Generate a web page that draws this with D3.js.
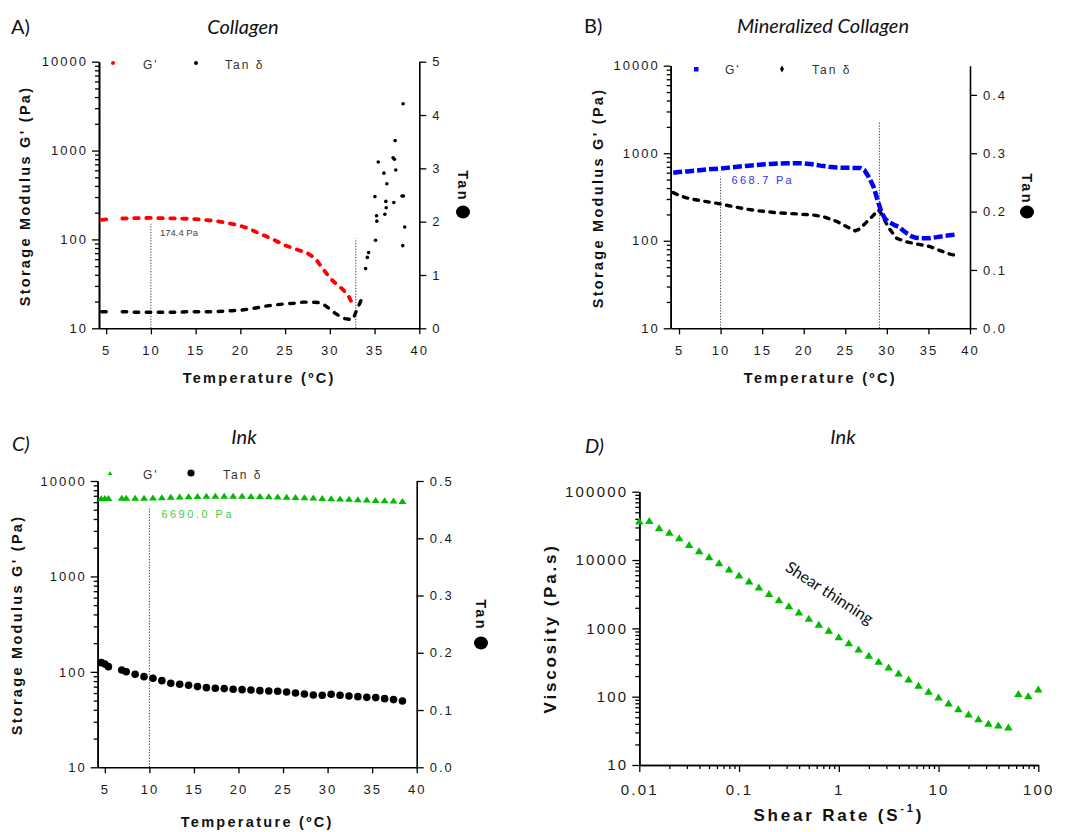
<!DOCTYPE html>
<html>
<head>
<meta charset="utf-8">
<script src="https://cdn.jsdelivr.net/npm/d3@7"></script>
<style>
  body { margin: 0; background: #fff; }
  svg { display: block; background: #fff; }
  .axis .domain { stroke: #000; stroke-width: 1.6; }
  .axis .tick line { stroke: #000; stroke-width: 1.3; }
  .axis text { font-family: "Liberation Sans", Arial, Helvetica, sans-serif; font-size: 13px; letter-spacing: 2px; fill: #1a1a1a; }
  .axis.big text { font-size: 15px; letter-spacing: 2.2px; }
  .axis-title { font-family: "Liberation Sans", Arial, Helvetica, sans-serif; font-weight: bold; font-size: 14.5px; letter-spacing: 2.3px; fill: #111; }
  .axis-title.big { font-size: 17px; letter-spacing: 2.8px; }
  .legend { font-family: "Liberation Sans", Arial, Helvetica, sans-serif; font-size: 12px; letter-spacing: 2px; fill: #333; }
  .panel-title { font-family: Lato, "Open Sans", sans-serif; font-style: italic; font-size: 20px; fill: #111; }
  .panel-tag { font-family: Lato, "Open Sans", sans-serif; font-size: 20px; fill: #111; }
  .note { font-family: "Liberation Sans", Arial, Helvetica, sans-serif; }
</style>
</head>
<body>
<svg id="chart" width="1067" height="832"></svg>
<script>
// ---------- shared tick values ----------
const tempTicks = [5, 10, 15, 20, 25, 30, 35, 40];
const collagenTanTicks = [0, 1, 2, 3, 4, 5];
const mineralTanTicks = [0, 0.1, 0.2, 0.3, 0.4];
const inkTanTicks = [0, 0.1, 0.2, 0.3, 0.4, 0.5];

// ---------- A) Collagen: temperature ramp ----------
// null marks a pause in acquisition (no point recorded)
const collagenT = [4.5, 5.0, 5.7, 6.2, 6.8, 7.5, 8.2, 9.0, 10.0, 11.0, 12.0, 13.0, 14.0, 15.0, 16.0, 17.0, 18.0, 19.0, 20.0, 21.0, 22.0, 23.0, 24.0, 25.0, 26.0, 27.0, 27.5, 28.0, 28.5, 29.0, 29.5, 30.0, 30.5, 31.0, 31.5, 32.0, 32.4];
const collagenG = [166, 168, 170, null, 172, 173, 174, 174, 174.4, 174, 173, 172, 171, 169, 166, 162, 157, 150, 142, 132, 118, 107, 96, 86, 79, 73, 70, 65, 59, 50, 43, 37, 33, 30, 27, 24, 20];
const collagenTanT = [4.5, 5.0, 5.7, 6.2, 6.8, 7.5, 8.2, 9.0, 10.0, 11.0, 12.0, 13.0, 14.0, 15.0, 16.0, 17.0, 18.0, 19.0, 20.0, 21.0, 22.0, 23.0, 24.0, 25.0, 26.0, 27.0, 28.0, 29.0, 29.7, 30.2, 30.7, 31.2, 31.7, 32.2, 32.6, 32.9, 33.1, 33.3, 33.5];
const collagenTan = [0.31, 0.31, 0.31, null, 0.31, 0.31, 0.30, 0.30, 0.30, 0.30, 0.30, 0.30, 0.31, 0.31, 0.31, 0.31, 0.32, 0.33, 0.34, 0.36, 0.39, 0.42, 0.44, 0.46, 0.47, 0.49, 0.49, 0.48, 0.40, 0.33, 0.27, 0.22, 0.18, 0.17, 0.17, 0.30, 0.38, 0.45, 0.53];
// after gelation the loss factor becomes erratic
const collagenLateT = [34.0, 34.19, 34.33, 35.11, 35.04, 35.22, 35.26, 35.41, 36.04, 36.15, 36.26, 36.30, 36.37, 37.07, 37.15, 37.22, 37.30, 37.37, 38.07, 38.15, 38.19, 38.22, 38.37];
const collagenLateTan = [1.12, 1.33, 1.42, 1.65, 2.47, 2.11, 2.01, 3.12, 2.91, 2.14, 2.38, 2.26, 2.71, 3.20, 2.36, 3.17, 3.52, 2.97, 2.48, 1.55, 4.21, 2.48, 1.90];

// ---------- B) Mineralized collagen ----------
const mineralGT = [4.3, 5.0, 6.0, 7.0, 8.0, 9.0, 10.0, 11.0, 12.0, 13.0, 14.0, 15.0, 16.0, 17.0, 18.0, 19.0, 20.0, 21.0, 22.0, 23.0, 24.0, 25.0, 26.0, 26.8, 27.3, 27.8, 28.4, 29.0, 29.4, 29.8, 30.2, 31.0, 31.5, 32.0, 32.5, 33.0, 33.5, 34.0, 35.0, 36.0, 37.0, 38.0, 38.5];
const mineralG = [600, 610, 620, 632, 648, 660, 668.7, 685, 700, 715, 730, 742, 755, 763, 767, 768, 767, 750, 722, 700, 686, 682, 680, 678, 640, 540, 415, 268, 206, 178, 165, 150, 143, 130, 120, 112, 108, 107, 107, 110, 114, 117, 119];
const mineralTanT = [4.3, 4.9, 5.8, 6.7, 7.5, 8.3, 9.2, 10.0, 11.0, 11.9, 13.0, 14.3, 15.5, 16.7, 18.0, 19.2, 20.2, 21.2, 22.4, 23.2, 24.0, 25.2, 26.2, 26.7, 27.2, 28.2, 29.0, 29.4, 29.8, 30.4, 31.2, 32.4, 33.6, 35.2, 36.4, 37.6, 38.4];
const mineralTan = [0.2325, 0.2285, 0.224, 0.221, 0.219, 0.217, 0.215, 0.213, 0.210, 0.2074, 0.2045, 0.2017, 0.200, 0.198, 0.197, 0.196, 0.195, 0.194, 0.191, 0.187, 0.183, 0.174, 0.167, 0.170, 0.177, 0.191, 0.203, 0.195, 0.183, 0.1686, 0.154, 0.148, 0.1445, 0.140, 0.133, 0.127, 0.1245];

// ---------- C) Ink: temperature ramp ----------
const inkT = [4.6, 5.0, 5.4, 6.9, 7.4, 8.4, 9.4, 10.4, 11.4, 12.4, 13.4, 14.4, 15.4, 16.4, 17.4, 18.4, 19.4, 20.4, 21.4, 22.4, 23.4, 24.4, 25.4, 26.4, 27.4, 28.4, 29.4, 30.4, 31.4, 32.4, 33.4, 34.4, 35.4, 36.4, 37.4, 38.4];
const inkG = [6600, 6620, 6650, 6680, 6680, 6690, 6690, 6700, 6760, 6820, 6880, 6930, 6970, 7000, 7020, 7010, 7000, 6990, 6980, 6960, 6920, 6880, 6850, 6800, 6760, 6700, 6650, 6600, 6560, 6500, 6450, 6390, 6340, 6290, 6230, 6180];
const inkTan = [0.1828, 0.1804, 0.1758, 0.170, 0.167, 0.1624, 0.1583, 0.1554, 0.1513, 0.1467, 0.145, 0.1432, 0.1409, 0.1391, 0.138, 0.1374, 0.1362, 0.1356, 0.135, 0.1339, 0.1333, 0.1327, 0.1315, 0.1298, 0.128, 0.1263, 0.1257, 0.1275, 0.1257, 0.1246, 0.1234, 0.1222, 0.1217, 0.1199, 0.1182, 0.1158];

// ---------- D) Ink: flow curve ----------
const shearRate = [0.01, 0.0126, 0.0158, 0.02, 0.0251, 0.0316, 0.0398, 0.0501, 0.0631, 0.0794, 0.1, 0.126, 0.158, 0.2, 0.251, 0.316, 0.398, 0.501, 0.631, 0.794, 1, 1.26, 1.58, 2, 2.51, 3.16, 3.98, 5.01, 6.31, 7.94, 10, 12.6, 15.8, 20, 25.1, 31.6, 39.8, 50.1, 63.1, 79.4, 100];
const viscosity = [37200, 38000, 29700, 25400, 21200, 16900, 13700, 11200, 9150, 7390, 6030, 4930, 4030, 3250, 2630, 2150, 1730, 1400, 1145, 935, 756, 617, 499, 403, 329, 272, 222, 181, 147, 120, 98.9, 80.7, 66.7, 55.7, 47.6, 40.7, 38.5, 36, 111, 103.5, 129];

// ---------- helpers ----------
const svg = d3.select("#chart");
const isDecade = d => Math.abs(Math.log10(d) - Math.round(Math.log10(d))) < 1e-6;
const zip = (xs, vs) => xs.map((t, i) => ({ t, v: vs[i] }));

function styleAxis(sel, big) {
  sel.attr("font-family", null).attr("font-size", null).classed("axis", true).classed("big", !!big);
}

function logAxisLeft(g, scale, xPos, big) {
  const ticks = scale.ticks();
  g.append("g").attr("transform", `translate(${xPos},0)`)
    .call(d3.axisLeft(scale).tickValues(ticks.filter(d => !isDecade(d))).tickSize(4).tickFormat("").tickSizeOuter(0))
    .call(styleAxis, big);
  g.append("g").attr("transform", `translate(${xPos},0)`)
    .call(d3.axisLeft(scale).tickValues(ticks.filter(isDecade)).tickSize(7).tickPadding(4).tickFormat(d3.format("d")).tickSizeOuter(0))
    .call(styleAxis, big);
}

function dashed(g, pts, x, y, st) {
  const line = d3.line().defined(d => d.v != null).x(d => x(d.t)).y(d => y(d.v));
  g.append("path").datum(pts).attr("d", line)
    .attr("fill", "none").attr("stroke", st.color).attr("stroke-width", st.width)
    .attr("stroke-dasharray", st.dash).attr("stroke-linecap", st.cap);
}

function dotted(g, x0, y0, y1) {
  g.append("line").attr("x1", x0).attr("x2", x0).attr("y1", y0).attr("y2", y1)
    .attr("stroke", "#333").attr("stroke-width", 1).attr("stroke-dasharray", "1.2,1.6");
}

function tanTitle(g, cx, cy, by) {
  g.append("text").attr("class", "axis-title")
    .attr("transform", `translate(${cx},${cy}) rotate(90)`)
    .attr("text-anchor", "middle").attr("dominant-baseline", "central").text("Tan");
  g.append("ellipse").attr("cx", cx).attr("cy", by).attr("rx", 7).attr("ry", 6.5).attr("fill", "#000");
}

function temperaturePanel(p) {
  const g = svg.append("g");
  const x = d3.scaleLinear().domain(p.xDomain).range([p.left, p.right]);
  const y = d3.scaleLog().domain([10, 10000]).range([p.bottom, p.top]);
  const y2 = d3.scaleLinear().domain(p.y2Domain).range([p.bottom, p.top]);

  logAxisLeft(g, y, p.left);
  g.append("g").attr("transform", `translate(0,${p.bottom})`)
    .call(d3.axisBottom(x).tickValues(tempTicks).tickSize(6).tickPadding(11).tickFormat(d3.format("d")).tickSizeOuter(0))
    .call(styleAxis);
  g.append("g").attr("transform", `translate(${p.right},0)`)
    .call(d3.axisRight(y2).tickValues(p.y2Ticks).tickSize(7).tickPadding(6).tickFormat(p.y2Format).tickSizeOuter(0))
    .call(styleAxis);

  // panel tag and title
  g.append("text").attr("class", "panel-tag").attr("x", p.tag[0]).attr("y", p.tag[1])
    .style("font-style", p.tagItalic ? "italic" : "normal").attr("dominant-baseline", "central").text(p.tagText);
  g.append("text").attr("class", "panel-title").attr("x", p.title[0]).attr("y", p.title[1])
    .attr("text-anchor", "middle").attr("dominant-baseline", "central").text(p.titleText);

  // axis titles
  g.append("text").attr("class", "axis-title")
    .attr("transform", `translate(${p.yTitle[0]},${p.yTitle[1]}) rotate(-90)`)
    .attr("text-anchor", "middle").attr("dominant-baseline", "central").text("Storage Modulus G' (Pa)");
  g.append("text").attr("class", "axis-title").attr("x", (p.left + p.right) / 2).attr("y", p.xTitleY)
    .attr("text-anchor", "middle").attr("dominant-baseline", "central").text("Temperature (ºC)");
  tanTitle(g, p.tan[0], p.tan[1], p.tan[2]);

  p.draw(g, x, y, y2);
  return g;
}

// ---------- A ----------
temperaturePanel({
  left: 99, right: 419.3, top: 61.7, bottom: 328.3,
  xDomain: [4.2, 40], y2Domain: [0, 5], y2Ticks: collagenTanTicks, y2Format: d3.format("d"),
  tag: [11, 26], tagText: "A)", title: [243, 26], titleText: "Collagen",
  yTitle: [25, 196], xTitleY: 378, tan: [463, 186, 212],
  draw(g, x, y, y2) {
    dotted(g, x(10), y(10), y(150));
    dotted(g, x(32.9), y(10), y(103));
    dashed(g, zip(collagenTanT, collagenTan), x, y2, { color: "#000", width: 3.4, dash: "4.5,7.5", cap: "round" });
    dashed(g, zip(collagenT, collagenG), x, y, { color: "#ff0000", width: 3.8, dash: "4.5,7.5", cap: "round" });
    g.selectAll(".late").data(zip(collagenLateT, collagenLateTan)).join("circle")
      .attr("cx", d => x(d.t)).attr("cy", d => y2(d.v)).attr("r", 1.8).attr("fill", "#000");
    g.append("text").attr("class", "note").attr("x", x(10) + 9).attr("y", 232)
      .attr("dominant-baseline", "central").attr("font-size", 9.5).attr("fill", "#444").text("174.4 Pa");
    // legend
    g.append("circle").attr("cx", 113).attr("cy", 63).attr("r", 2).attr("fill", "#ff0000");
    g.append("text").attr("class", "legend").attr("x", 143).attr("y", 65).attr("dominant-baseline", "central").text("G'");
    g.append("circle").attr("cx", 196).attr("cy", 63).attr("r", 2).attr("fill", "#000");
    g.append("text").attr("class", "legend").attr("x", 225).attr("y", 65).attr("dominant-baseline", "central").text("Tan δ");
  }
});

// ---------- B ----------
temperaturePanel({
  left: 670.7, right: 970, top: 65.7, bottom: 328.3,
  xDomain: [4.0, 40], y2Domain: [0, 0.45], y2Ticks: mineralTanTicks, y2Format: d3.format(".1f"),
  tag: [584, 25], tagText: "B)", title: [823, 25], titleText: "Mineralized Collagen",
  yTitle: [598, 198], xTitleY: 378, tan: [1027, 189, 212],
  draw(g, x, y, y2) {
    dotted(g, x(10), y(10), y(540));
    dotted(g, x(29.1), y(10), y(2330));
    dashed(g, zip(mineralTanT, mineralTan), x, y2, { color: "#000", width: 3.4, dash: "4.5,6.5", cap: "round" });
    dashed(g, zip(mineralGT, mineralG), x, y, { color: "#0000ff", width: 4.5, dash: "9,3", cap: "butt" });
    g.append("text").attr("class", "note").attr("x", x(10) + 11).attr("y", 180)
      .attr("dominant-baseline", "central").attr("font-size", 11).attr("letter-spacing", "2.3px").attr("fill", "#3333ee").text("668.7 Pa");
    g.append("rect").attr("x", 694).attr("y", 67).attr("width", 4.5).attr("height", 4.5).attr("fill", "#0000ff");
    g.append("text").attr("class", "legend").attr("x", 725).attr("y", 70).attr("dominant-baseline", "central").text("G'");
    g.append("path").attr("d", d3.symbol(d3.symbolDiamond, 14)()).attr("transform", "translate(782,69)").attr("fill", "#000");
    g.append("text").attr("class", "legend").attr("x", 812).attr("y", 70).attr("dominant-baseline", "central").text("Tan δ");
  }
});

// ---------- C ----------
const triangle = (cx, cy, w, h) => `M${cx - w / 2},${cy + h / 2}L${cx + w / 2},${cy + h / 2}L${cx},${cy - h / 2}Z`;
temperaturePanel({
  left: 97.7, right: 416.7, top: 481, bottom: 767.3,
  xDomain: [4.2, 40], y2Domain: [0, 0.5], y2Ticks: inkTanTicks, y2Format: d3.format(".1f"),
  tag: [12, 443], tagText: "C)", tagItalic: true, title: [244, 436], titleText: "Ink",
  yTitle: [17, 625], xTitleY: 822, tan: [481, 615, 643],
  draw(g, x, y, y2) {
    dotted(g, x(10), y(10), y(5380));
    g.selectAll(".tan").data(zip(inkT, inkTan)).join("circle")
      .attr("cx", d => x(d.t)).attr("cy", d => y2(d.v)).attr("r", 3.8).attr("fill", "#000");
    g.selectAll(".gp").data(zip(inkT, inkG)).join("path")
      .attr("d", d => triangle(x(d.t), y(d.v), 8, 6)).attr("fill", "#00bb00");
    g.append("text").attr("class", "note").attr("x", x(10) + 12).attr("y", 514)
      .attr("dominant-baseline", "central").attr("font-size", 11).attr("letter-spacing", "2.5px").attr("fill", "#44cc44").text("6690.0 Pa");
    g.append("path").attr("d", triangle(110, 473, 4.5, 4)).attr("fill", "#00bb00");
    g.append("text").attr("class", "legend").attr("x", 143).attr("y", 475).attr("dominant-baseline", "central").text("G'");
    g.append("circle").attr("cx", 191).attr("cy", 473).attr("r", 3.6).attr("fill", "#000");
    g.append("text").attr("class", "legend").attr("x", 223).attr("y", 475).attr("dominant-baseline", "central").text("Tan δ");
  }
});

// ---------- D ----------
(function flowPanel() {
  const p = { left: 639.3, right: 1038.3, top: 491.7, bottom: 765 };
  const g = svg.append("g");
  const x = d3.scaleLog().domain([0.01, 100]).range([p.left, p.right]);
  const y = d3.scaleLog().domain([10, 100000]).range([p.bottom, p.top]);

  logAxisLeft(g, y, p.left, true);
  const xt = x.ticks();
  g.append("g").attr("transform", `translate(0,${p.bottom})`)
    .call(d3.axisBottom(x).tickValues(xt.filter(d => !isDecade(d))).tickSize(4).tickFormat("").tickSizeOuter(0))
    .call(styleAxis, true);
  g.append("g").attr("transform", `translate(0,${p.bottom})`)
    .call(d3.axisBottom(x).tickValues(xt.filter(isDecade)).tickSize(7).tickPadding(12).tickFormat(d3.format("~g")).tickSizeOuter(0))
    .call(styleAxis, true);

  g.append("text").attr("class", "panel-tag").attr("x", 585).attr("y", 445)
    .style("font-style", "italic").attr("dominant-baseline", "central").text("D)");
  g.append("text").attr("class", "panel-title").attr("x", 843).attr("y", 436)
    .attr("text-anchor", "middle").attr("dominant-baseline", "central").text("Ink");

  g.append("text").attr("class", "axis-title big")
    .attr("transform", `translate(550,${(p.top + p.bottom) / 2}) rotate(-90)`)
    .attr("text-anchor", "middle").attr("dominant-baseline", "central").text("Viscosity (Pa.s)");
  const xTitle = g.append("text").attr("class", "axis-title big").attr("x", (p.left + p.right) / 2).attr("y", 815)
    .attr("text-anchor", "middle").attr("dominant-baseline", "central");
  xTitle.append("tspan").text("Shear  Rate (S");
  xTitle.append("tspan").attr("dy", -7).attr("font-size", 11).text("-1");
  xTitle.append("tspan").attr("dy", 7).text(")");

  g.selectAll(".visc").data(zip(shearRate, viscosity)).join("path")
    .attr("d", d => triangle(x(d.t), y(d.v), 8.5, 7)).attr("fill", "#00bb00");

  g.append("text").attr("x", 830).attr("y", 592)
    .attr("transform", "rotate(33,830,592)").attr("text-anchor", "middle").attr("dominant-baseline", "central")
    .attr("font-family", "Lato, 'Open Sans', sans-serif").attr("font-size", 16).attr("fill", "#111").text("Shear thinning");
})();
</script>
</body>
</html>
